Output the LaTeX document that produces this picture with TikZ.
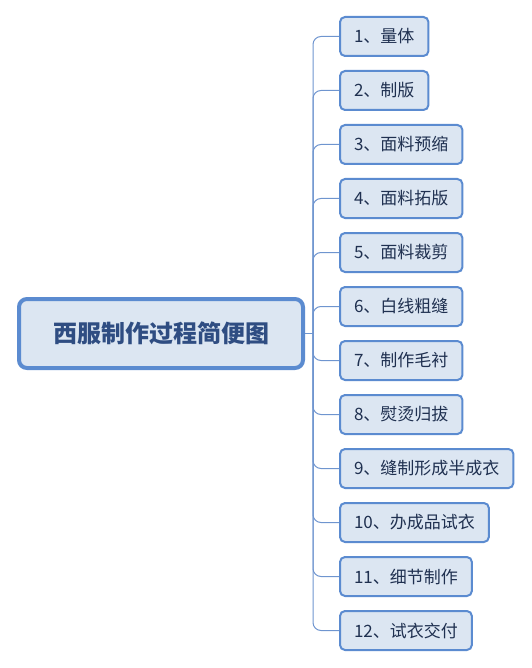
\documentclass[tikz,border=0pt]{standalone}
\usepackage{fontspec}
\setmainfont{Noto Sans CJK SC}
\newfontfamily\cjk{Noto Sans CJK SC}
\definecolor{boxfill}{HTML}{DCE6F2}
\definecolor{boxline}{HTML}{5B8BD0}
\definecolor{conline}{HTML}{6F95CF}
\definecolor{subtext}{HTML}{1F3050}
\definecolor{maintext}{HTML}{2F4D82}
\tikzset{
  mainbox/.style={draw=boxline, line width=4pt, fill=boxfill, rounded corners=8pt,
    minimum width=284pt, minimum height=69pt, inner sep=0pt,
    font=\cjk\bfseries\fontsize{24}{28}\selectfont, text=maintext},
  subbox/.style={draw=boxline, line width=2pt, fill=boxfill, rounded corners=5pt,
    minimum height=39pt, inner xsep=14pt, inner ysep=0pt, anchor=west,
    font=\cjk\fontsize{17}{20}\selectfont, text=subtext},
  conn/.style={draw=conline, line width=1pt, rounded corners=8pt}
}
\begin{document}
\begin{tikzpicture}[x=1pt,y=-1pt]
\useasboundingbox (0,0) rectangle (531,668);
\node[mainbox] (main) at (161,333.5) {西服制作过程简便图};
\coordinate (trunk) at (313,333.5);
\node[subbox] (c1) at (339,36.5) {1、量体};
\node[subbox] (c2) at (339,90.5) {2、制版};
\node[subbox] (c3) at (339,144.5) {3、面料预缩};
\node[subbox] (c4) at (339,198.5) {4、面料拓版};
\node[subbox] (c5) at (339,252.5) {5、面料裁剪};
\node[subbox] (c6) at (339,306.5) {6、白线粗缝};
\node[subbox] (c7) at (339,360.5) {7、制作毛衬};
\node[subbox] (c8) at (339,414.5) {8、熨烫归拔};
\node[subbox] (c9) at (339,468.5) {9、缝制形成半成衣};
\node[subbox] (c10) at (339,522.5) {10、办成品试衣};
\node[subbox] (c11) at (339,576.5) {11、细节制作};
\node[subbox] (c12) at (339,630.5) {12、试衣交付};
\draw[conn] (main.east) -- (trunk);
\foreach \c in {c1,c2,c3,c4,c5,c6,c7,c8,c9,c10,c11,c12}
  \draw[conn] (trunk) |- (\c.west);
\end{tikzpicture}
\end{document}
